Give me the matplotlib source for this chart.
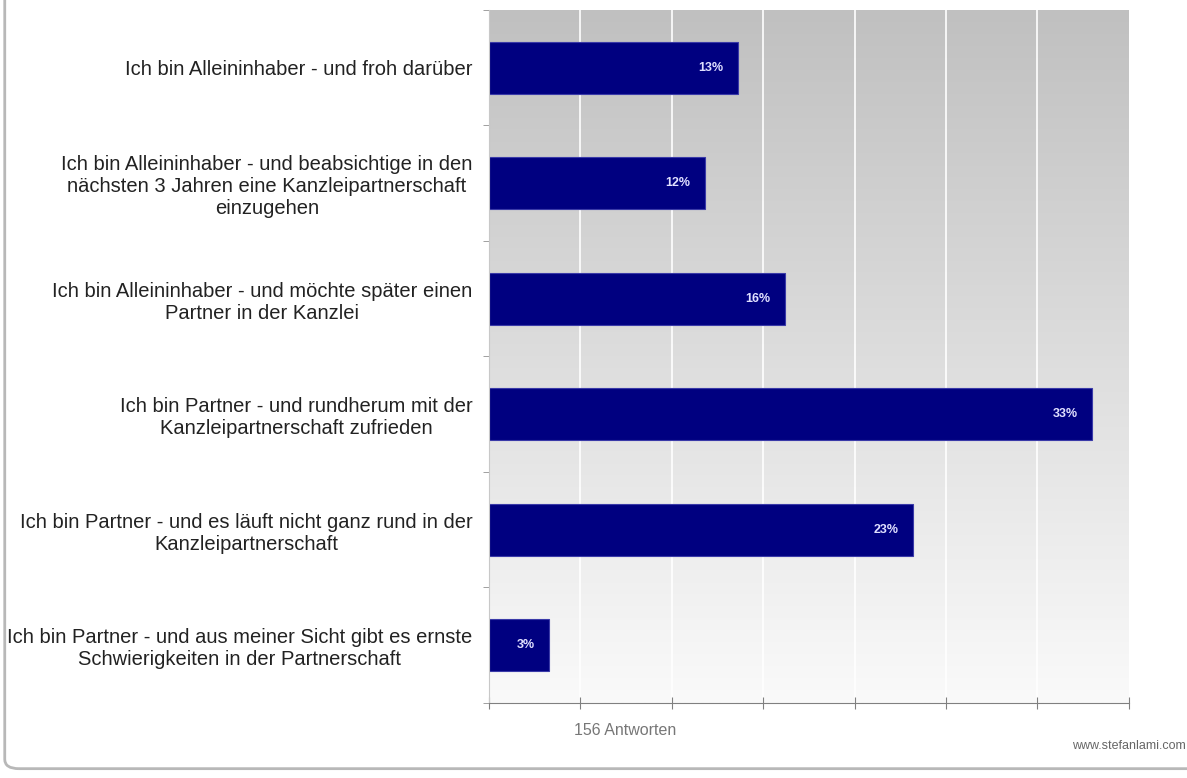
import matplotlib
matplotlib.use("Agg")
import matplotlib.pyplot as plt
import numpy as np
from matplotlib.patches import FancyBboxPatch

plt.rcParams["font.family"] = ["Liberation Sans", "DejaVu Sans"]

categories = [
    "Ich bin Alleininhaber - und froh darüber",
    "Ich bin Alleininhaber - und beabsichtige in den\nnächsten 3 Jahren eine Kanzleipartnerschaft\neinzugehen",
    "Ich bin Alleininhaber - und möchte später einen\nPartner in der Kanzlei",
    "Ich bin Partner - und rundherum mit der\nKanzleipartnerschaft zufrieden",
    "Ich bin Partner - und es läuft nicht ganz rund in der\nKanzleipartnerschaft",
    "Ich bin Partner - und aus meiner Sicht gibt es ernste\nSchwierigkeiten in der Partnerschaft",
]
values = [13.6, 11.8, 16.2, 33.0, 23.2, 3.3]
value_labels = ["13%", "12%", "16%", "33%", "23%", "3%"]


def main():
    fig = plt.figure(figsize=(11.87, 7.78), dpi=100)
    fig.patch.set_facecolor("white")

    # rounded frame round the whole figure
    frame = FancyBboxPatch((0.004, 0.012), 1.2, 1.2, boxstyle="round,pad=0,rounding_size=0.012",
                           transform=fig.transFigure, facecolor="none",
                           edgecolor="#b8b8b8", linewidth=2.0, zorder=0)
    fig.patches.append(frame)

    ax = fig.add_axes([0.412, 0.0964, 0.539, 0.891])
    n = len(categories)
    y = np.arange(n)

    # vertical gradient background
    grad = np.linspace(0, 1, 256).reshape(-1, 1)
    ax.imshow(grad, extent=[0, 35, -0.5, n - 0.5], aspect="auto", origin="upper",
              cmap=matplotlib.colors.LinearSegmentedColormap.from_list("bg", ["#fafafa", "#c0c0c0"]),
              zorder=0)

    for xg in range(5, 35, 5):
        ax.axvline(xg, color="white", linewidth=1.2, zorder=1)

    ax.barh(y, values, height=0.45, color="#000080", edgecolor="#3a3aa8", linewidth=0.8, zorder=2)
    for yi, v, lab in zip(y, values, value_labels):
        ax.text(v - 0.8, yi, lab, ha="right", va="center", color="#e0e0ff",
                fontsize=9, fontweight="bold", zorder=3)

    ax.set_xlim(0, 35)
    ax.set_ylim(n - 0.5, -0.5)
    ax.set_xticks(range(0, 36, 5))
    ax.set_xticklabels([])
    ax.tick_params(axis="x", direction="inout", length=8, color="#808080", width=0.8)
    ax.set_yticks(y)
    ax.set_yticklabels(categories, fontsize=14.5, color="#222222", multialignment="center")
    ax.tick_params(axis="y", length=0, pad=12)
    ax.set_yticks(np.arange(-0.5, n, 1), minor=True)
    ax.tick_params(axis="y", which="minor", length=4, color="#909090", direction="out")

    for side in ["top", "right"]:
        ax.spines[side].set_visible(False)
    ax.spines["left"].set_color("#c8c8c8")
    ax.spines["bottom"].set_color("#808080")

    fig.text(0.4835, 0.055, "156 Antworten", color="#777777", fontsize=11.5)
    fig.text(0.999, 0.037, "www.stefanlami.com", color="#666666", fontsize=9, ha="right")

    fig.savefig("out.png", dpi=100)


main()
